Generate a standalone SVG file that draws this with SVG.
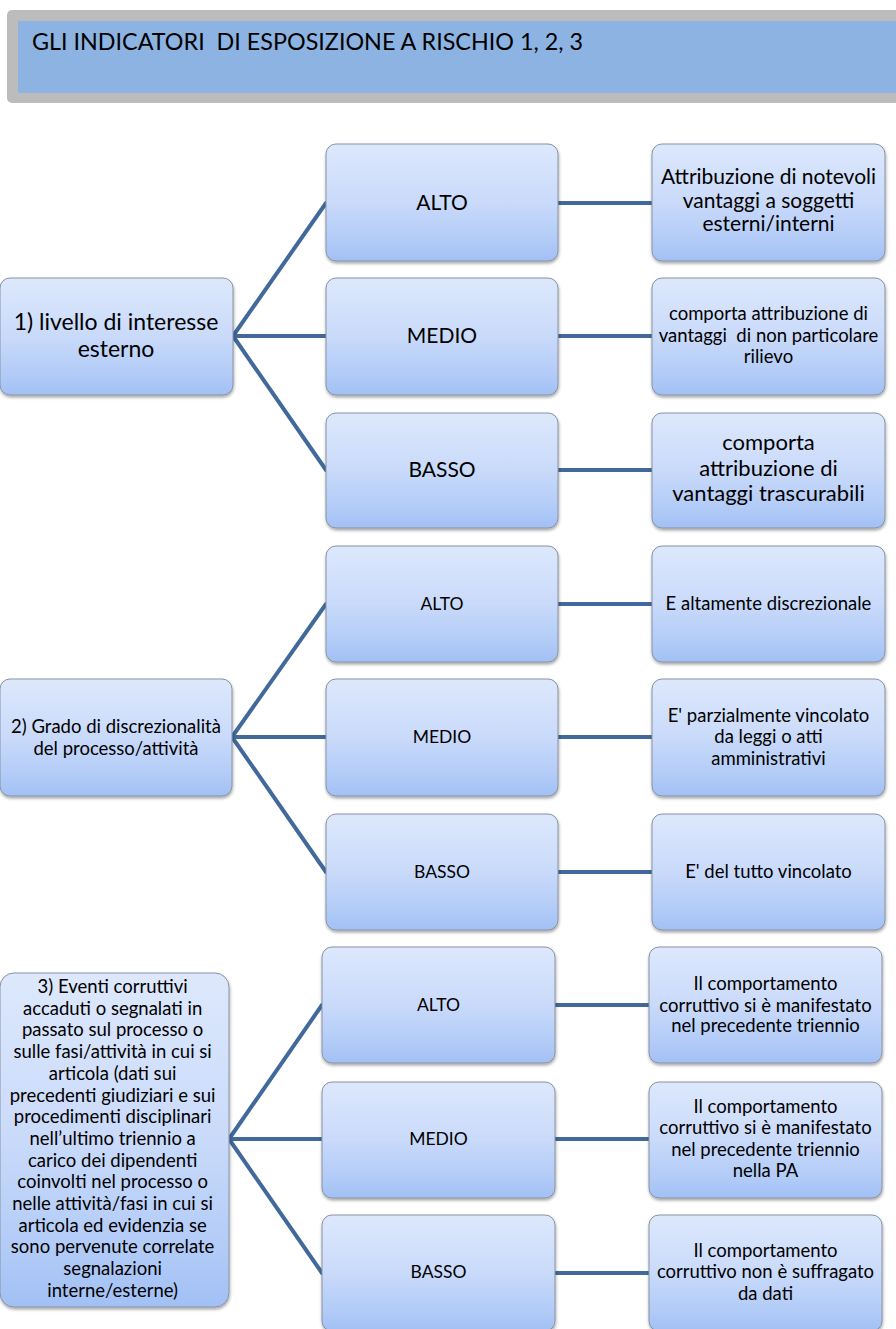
<svg xmlns="http://www.w3.org/2000/svg" width="896" height="1329" viewBox="0 0 896 1329">
<defs>
<linearGradient id="g" x1="0" y1="0" x2="0" y2="1">
<stop offset="0" stop-color="#dde8fc"/>
<stop offset="0.5" stop-color="#c9dafa"/>
<stop offset="0.85" stop-color="#b0caf7"/>
<stop offset="1" stop-color="#a2c0f5"/>
</linearGradient>
<filter id="sh" x="-10%" y="-10%" width="120%" height="130%">
<feDropShadow dx="0.5" dy="2" stdDeviation="1.5" flood-color="#000" flood-opacity="0.35"/>
</filter>
</defs>
<style>
.n{fill:url(#g);stroke:#8792a4;stroke-width:1;filter:url(#sh)}
.t{font-family:Lato,"Open Sans","Liberation Sans",sans-serif;fill:#000;text-anchor:middle;white-space:pre}
.c{stroke:#41699b;stroke-width:4;fill:none;stroke-linecap:round}
.s17{font-size:17.5px}
.s18{font-size:18.5px}
.s21{font-size:21px}
.s22{font-size:22px}
.s23{font-size:23px}
</style>
<rect width="896" height="1329" fill="#fff"/>
<g id="header">
<rect x="7" y="10" width="900" height="93" rx="5" fill="#bcbcbc"/>
<rect x="18" y="21" width="890" height="72" fill="#8db3e2"/>
<text x="32" y="50" class="t" style="text-anchor:start;font-size:22.5px" textLength="551" lengthAdjust="spacingAndGlyphs">GLI INDICATORI  DI ESPOSIZIONE A RISCHIO 1, 2, 3</text>
</g>
<g id="connectors">
<path class="c" d="M233,336 L326,203 M233,336 L326,336 M233,336 L326,470 M558,203 L652,203 M558,336 L652,336 M558,470 L652,470"/>
<path class="c" d="M232,737 L326,604 M232,737 L326,737 M232,737 L326,872 M558,604 L652,604 M558,737 L652,737 M558,872 L652,872"/>
<path class="c" d="M229,1139 L322,1005 M229,1139 L322,1139 M229,1139 L322,1273 M555,1005 L649,1005 M555,1139 L649,1139 M555,1273 L649,1273"/>
</g>
<g id="n1">
<rect class="n" x="0" y="278" width="233" height="117" rx="10"/>
<text class="t s23"><tspan x="116" y="330">1) livello di interesse</tspan><tspan x="116" y="357">esterno</tspan></text>
</g>
<g id="n1-alto">
<rect class="n" x="326" y="144" width="232" height="117" rx="10"/>
<text class="t s21" x="442" y="210">ALTO</text>
</g>
<g id="n1-medio">
<rect class="n" x="326" y="278" width="232" height="117" rx="10"/>
<text class="t s21" x="442" y="343">MEDIO</text>
</g>
<g id="n1-basso">
<rect class="n" x="326" y="413" width="232" height="115" rx="10"/>
<text class="t s21" x="442" y="477">BASSO</text>
</g>
<g id="n1-alto-d">
<rect class="n" x="652" y="144" width="233" height="117" rx="10"/>
<text class="t s21"><tspan x="768.5" y="184">Attribuzione di notevoli</tspan><tspan x="768.5" y="208">vantaggi a soggetti</tspan><tspan x="768.5" y="231">esterni/interni</tspan></text>
</g>
<g id="n1-medio-d">
<rect class="n" x="652" y="278" width="233" height="117" rx="10"/>
<text class="t s18"><tspan x="768.5" y="320">comporta attribuzione di</tspan><tspan x="768.5" y="342">vantaggi  di non particolare</tspan><tspan x="768.5" y="363">rilievo</tspan></text>
</g>
<g id="n1-basso-d">
<rect class="n" x="652" y="413" width="233" height="115" rx="10"/>
<text class="t s22"><tspan x="768.5" y="450">comporta</tspan><tspan x="768.5" y="476">attribuzione di</tspan><tspan x="768.5" y="501">vantaggi trascurabili</tspan></text>
</g>
<g id="n2">
<rect class="n" x="0" y="679" width="232" height="117" rx="10"/>
<text class="t s18"><tspan x="116" y="733">2) Grado di discrezionalità</tspan><tspan x="116" y="755">del processo/attività</tspan></text>
</g>
<g id="n2-alto">
<rect class="n" x="326" y="546" width="232" height="116" rx="10"/>
<text class="t s17" x="442" y="610">ALTO</text>
</g>
<g id="n2-medio">
<rect class="n" x="326" y="679" width="232" height="117" rx="10"/>
<text class="t s17" x="442" y="743">MEDIO</text>
</g>
<g id="n2-basso">
<rect class="n" x="326" y="814" width="232" height="116" rx="10"/>
<text class="t s17" x="442" y="878">BASSO</text>
</g>
<g id="n2-alto-d">
<rect class="n" x="652" y="546" width="233" height="116" rx="10"/>
<text class="t s18" x="768.5" y="610">E altamente discrezionale</text>
</g>
<g id="n2-medio-d">
<rect class="n" x="652" y="679" width="233" height="117" rx="10"/>
<text class="t s18"><tspan x="768.5" y="722">E' parzialmente vincolato</tspan><tspan x="768.5" y="743">da leggi o atti</tspan><tspan x="768.5" y="765">amministrativi</tspan></text>
</g>
<g id="n2-basso-d">
<rect class="n" x="652" y="814" width="233" height="116" rx="10"/>
<text class="t s18" x="768.5" y="878">E' del tutto vincolato</text>
</g>
<g id="n3">
<rect class="n" x="0" y="973" width="229" height="334" rx="14"/>
<text class="t s18">
<tspan x="115" y="993">3) Eventi corruttivi</tspan>
<tspan x="115" y="1014.7">accaduti o segnalati in</tspan>
<tspan x="115" y="1036.4">passato sul processo o</tspan>
<tspan x="115" y="1058.1">sulle fasi/attività in cui si</tspan>
<tspan x="115" y="1079.8">articola (dati sui</tspan>
<tspan x="115" y="1101.5">precedenti giudiziari e sui</tspan>
<tspan x="115" y="1123.2">procedimenti disciplinari</tspan>
<tspan x="115" y="1144.9">nell’ultimo triennio a</tspan>
<tspan x="115" y="1166.6">carico dei dipendenti</tspan>
<tspan x="115" y="1188.3">coinvolti nel processo o</tspan>
<tspan x="115" y="1210">nelle attività/fasi in cui si</tspan>
<tspan x="115" y="1231.7">articola ed evidenzia se</tspan>
<tspan x="115" y="1253.4">sono pervenute correlate</tspan>
<tspan x="115" y="1275.1">segnalazioni</tspan>
<tspan x="115" y="1296.8">interne/esterne)</tspan>
</text>
</g>
<g id="n3-alto">
<rect class="n" x="322" y="947" width="233" height="116" rx="10"/>
<text class="t s17" x="438.5" y="1011">ALTO</text>
</g>
<g id="n3-medio">
<rect class="n" x="322" y="1082" width="233" height="116" rx="10"/>
<text class="t s17" x="438.5" y="1145">MEDIO</text>
</g>
<g id="n3-basso">
<rect class="n" x="322" y="1215" width="233" height="116" rx="10"/>
<text class="t s17" x="438.5" y="1278">BASSO</text>
</g>
<g id="n3-alto-d">
<rect class="n" x="649" y="947" width="233" height="116" rx="10"/>
<text class="t s18"><tspan x="765.5" y="990">Il comportamento</tspan><tspan x="765.5" y="1012">corruttivo si è manifestato</tspan><tspan x="765.5" y="1032">nel precedente triennio</tspan></text>
</g>
<g id="n3-medio-d">
<rect class="n" x="649" y="1082" width="233" height="116" rx="10"/>
<text class="t s18"><tspan x="765.5" y="1113">Il comportamento</tspan><tspan x="765.5" y="1134">corruttivo si è manifestato</tspan><tspan x="765.5" y="1156">nel precedente triennio</tspan><tspan x="765.5" y="1177">nella PA</tspan></text>
</g>
<g id="n3-basso-d">
<rect class="n" x="649" y="1215" width="233" height="116" rx="10"/>
<text class="t s18"><tspan x="765.5" y="1257">Il comportamento</tspan><tspan x="765.5" y="1278">corruttivo non è suffragato</tspan><tspan x="765.5" y="1300">da dati</tspan></text>
</g>
</svg>
